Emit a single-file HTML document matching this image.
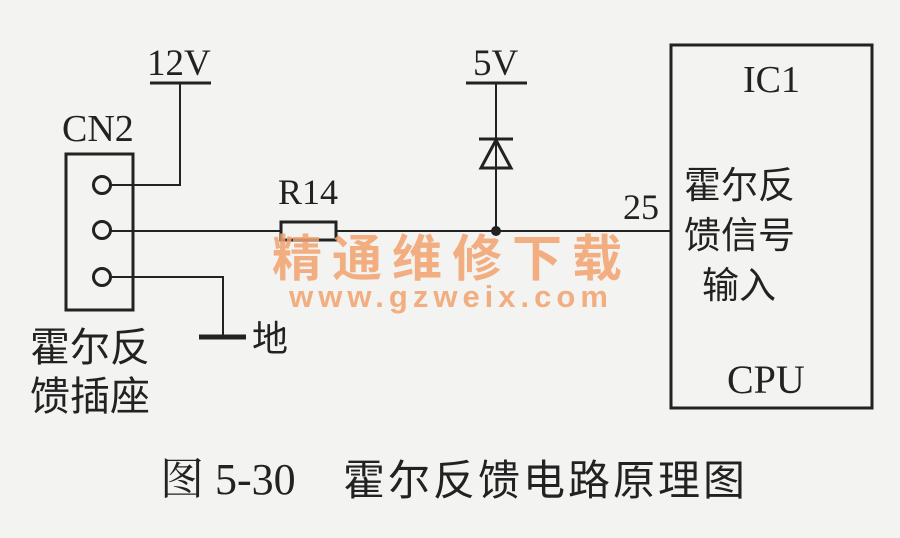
<!DOCTYPE html>
<html><head><meta charset="utf-8"><style>
html,body{margin:0;padding:0;background:#f3f3f1;}
svg{display:block}
.s{font-family:"Liberation Serif","Noto Serif CJK SC",serif;fill:#222;}
.c{font-family:"Liberation Sans","Noto Sans CJK SC",sans-serif;fill:#222;}
</style></head><body>
<svg width="900" height="538" viewBox="0 0 900 538" xmlns="http://www.w3.org/2000/svg">
<rect width="900" height="538" fill="#f3f3f1"/>
<g stroke="#222" fill="none">
  <rect x="66" y="154" width="67" height="156" stroke-width="3"/>
  <circle cx="102" cy="185" r="8.5" stroke-width="3"/>
  <circle cx="102" cy="230" r="8.5" stroke-width="3"/>
  <circle cx="102" cy="277" r="8.5" stroke-width="3"/>
  <line x1="150" y1="83" x2="211" y2="83" stroke-width="3"/>
  <polyline points="180,83 180,185 111,185" stroke-width="2"/>
  <polyline points="111,277 223,277 223,337" stroke-width="2"/>
  <line x1="199" y1="337" x2="246" y2="337" stroke-width="5"/>
  <line x1="111" y1="231" x2="280" y2="231" stroke-width="2"/>
  <rect x="281" y="222" width="55" height="18" stroke-width="3"/>
  <line x1="336" y1="231" x2="670" y2="231" stroke-width="2"/>
  <line x1="466" y1="83" x2="527" y2="83" stroke-width="3"/>
  <line x1="496" y1="83" x2="496" y2="231" stroke-width="2"/>
  <line x1="479" y1="139" x2="513" y2="139" stroke-width="3"/>
  <polygon points="496,140 481,168 511,168" stroke-width="3"/>
  <rect x="671" y="45" width="201" height="363" stroke-width="3"/>
</g>
<circle cx="496" cy="231" r="5" fill="#222"/>
<text x="452" y="276" text-anchor="middle" font-size="50" font-weight="bold" fill="#f2a26e" opacity="0.85" font-family="'Noto Sans CJK SC',sans-serif" letter-spacing="10">精通维修下载</text>
<text x="451" y="307" text-anchor="middle" font-size="31" font-weight="bold" fill="#f2a26e" opacity="0.85" font-family="'Liberation Sans',sans-serif" letter-spacing="5">www.gzweix.com</text>
<text class="s" x="147" y="75" font-size="37">12V</text>
<text class="s" x="62" y="141" font-size="38">CN2</text>
<text class="s" x="278" y="204" font-size="36">R14</text>
<text class="s" x="473" y="75" font-size="37">5V</text>
<text class="s" x="623" y="219" font-size="36">25</text>
<text class="s" x="743" y="92" font-size="38">IC1</text>
<text class="s" x="727" y="393" font-size="40">CPU</text>
<text class="c" x="252" y="351" font-size="36">地</text>
<text class="c" x="30" y="361" font-size="40">霍尔反</text>
<text class="c" x="30" y="410" font-size="40">馈插座</text>
<text class="c" x="684" y="198" font-size="37">霍尔反</text>
<text class="c" x="684" y="248" font-size="37">馈信号</text>
<text class="c" x="702" y="298" font-size="37">输入</text>
<text class="s" x="160" y="494" font-size="44">图 5-30</text>
<text class="c" x="343" y="495" font-size="42" letter-spacing="3">霍尔反馈电路原理图</text>
</svg>
</body></html>
